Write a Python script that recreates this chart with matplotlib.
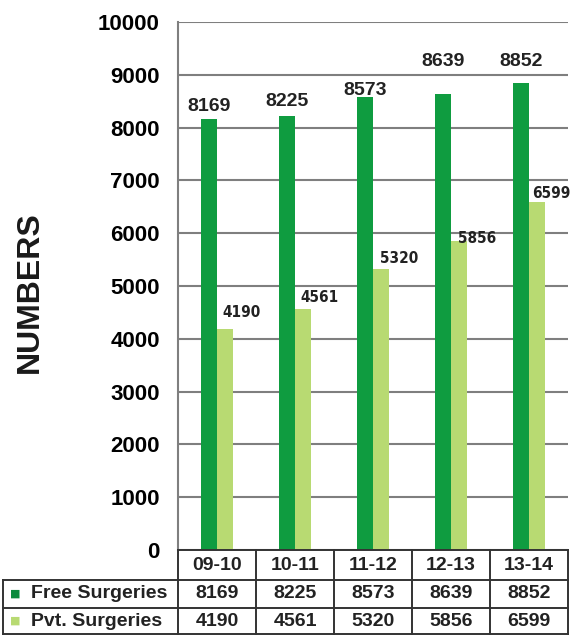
import numpy as np
import matplotlib.pyplot as plt
from matplotlib.lines import Line2D

years = ["09-10", "10-11", "11-12", "12-13", "13-14"]
free_surgeries = [8169, 8225, 8573, 8639, 8852]
pvt_surgeries = [4190, 4561, 5320, 5856, 6599]
series_names = ["Free Surgeries", "Pvt. Surgeries"]

dark_green = "#0f9c40"
light_green = "#b8da72"
grid_col = "#7f7f7f"
line_col = "#333333"
txt_col = "#222222"

W, H = 574, 636
fig = plt.figure(figsize=(W/100, H/100), dpi=100)
# plot area in pixels: x 178..568, y 22..550
ax = fig.add_axes([178/W, 1-550/H, 390/W, 528/H])

def fx(px):
    return px / W

def fy(py):
    return 1 - py / H

x = np.arange(len(years))
bw = 0.205
ax.bar(x - bw/2, free_surgeries, bw, color=dark_green, zorder=3)
ax.bar(x + bw/2, pvt_surgeries, bw, color=light_green, zorder=3)

ax.set_xlim(-0.5, len(years) - 0.5)
ax.set_ylim(0, 10000)
ax.set_yticks(np.arange(0, 10001, 1000))
ax.set_xticks([])
ax.tick_params(axis='y', length=0, pad=13)
for lab in ax.get_yticklabels():
    lab.set_fontweight('bold')
    lab.set_fontsize(16)
    lab.set_fontfamily('Liberation Sans')
ax.yaxis.grid(True, color=grid_col, lw=1.5)
ax.set_axisbelow(True)
for s in ['top', 'right', 'bottom']:
    ax.spines[s].set_visible(False)
ax.spines['left'].set_color(grid_col)
ax.spines['left'].set_linewidth(1.5)

# value labels (offsets in px, label tweaks only)
dark_dy = [12, 14, 7, 32, 21]
light_dx = [-3, -3, -1, -1, -5]
light_dy = [16, 12, 11, 2, 8]
for i in range(len(years)):
    ax.annotate(str(free_surgeries[i]), (x[i] - bw/2, free_surgeries[i]),
                xytext=(0, dark_dy[i]*0.72), textcoords='offset points',
                ha='center', va='center', fontsize=14, fontweight='bold',
                family='Liberation Sans', color=txt_col)
    ax.annotate(str(pvt_surgeries[i]), (x[i] + bw/2, pvt_surgeries[i]),
                xytext=(light_dx[i]*0.72, light_dy[i]*0.72), textcoords='offset points',
                ha='left', va='center', fontsize=11, fontweight='bold',
                fontstretch='condensed',
                family=['Liberation Sans Narrow', 'DejaVu Sans'], color=txt_col,
                annotation_clip=False)

fig.text(fx(30), fy(292), "NUMBERS", rotation=90, ha='center', va='center',
         fontsize=23, fontweight='bold', family='Liberation Sans', color='#1a1a1a')

# data table below the plot, drawn by hand
tab_left, tab_x0, col_w = 3, 178, 78
row_y = [550, 580, 608, 634]
n = len(years)
tab_right = tab_x0 + n * col_w

def hline(y, x0, x1):
    fig.add_artist(Line2D([fx(x0), fx(x1)], [fy(y), fy(y)], color=line_col, lw=1.4))

def vline(xp, y0, y1):
    fig.add_artist(Line2D([fx(xp), fx(xp)], [fy(y0), fy(y1)], color=line_col, lw=1.4))

hline(row_y[0], tab_x0, tab_right)
for yy in row_y[1:]:
    hline(yy, tab_left, tab_right)
for j in range(n + 1):
    vline(tab_x0 + j * col_w, row_y[0], row_y[-1])
vline(tab_left, row_y[1], row_y[-1])

cell_kw = dict(ha='center', va='center', fontsize=14, fontweight='bold',
               family='Liberation Sans', color=txt_col)
for j, yr in enumerate(years):
    cx = tab_x0 + (j + 0.5) * col_w
    fig.text(fx(cx), fy((row_y[0] + row_y[1]) / 2), yr, **cell_kw)
    fig.text(fx(cx), fy((row_y[1] + row_y[2]) / 2), str(free_surgeries[j]), **cell_kw)
    fig.text(fx(cx), fy((row_y[2] + row_y[3]) / 2), str(pvt_surgeries[j]), **cell_kw)

for k, (name, col) in enumerate(zip(series_names, ["#0b8a3c", light_green])):
    cy = (row_y[k + 1] + row_y[k + 2]) / 2
    fig.text(fx(15), fy(cy), "\u25a0", color=col, ha='center', va='center',
             fontsize=8, family='DejaVu Sans')
    fig.text(fx(31), fy(cy), name, ha='left', va='center', fontsize=14,
             fontweight='bold', family='Liberation Sans', color=txt_col)

fig.savefig("out.png", dpi=100)
